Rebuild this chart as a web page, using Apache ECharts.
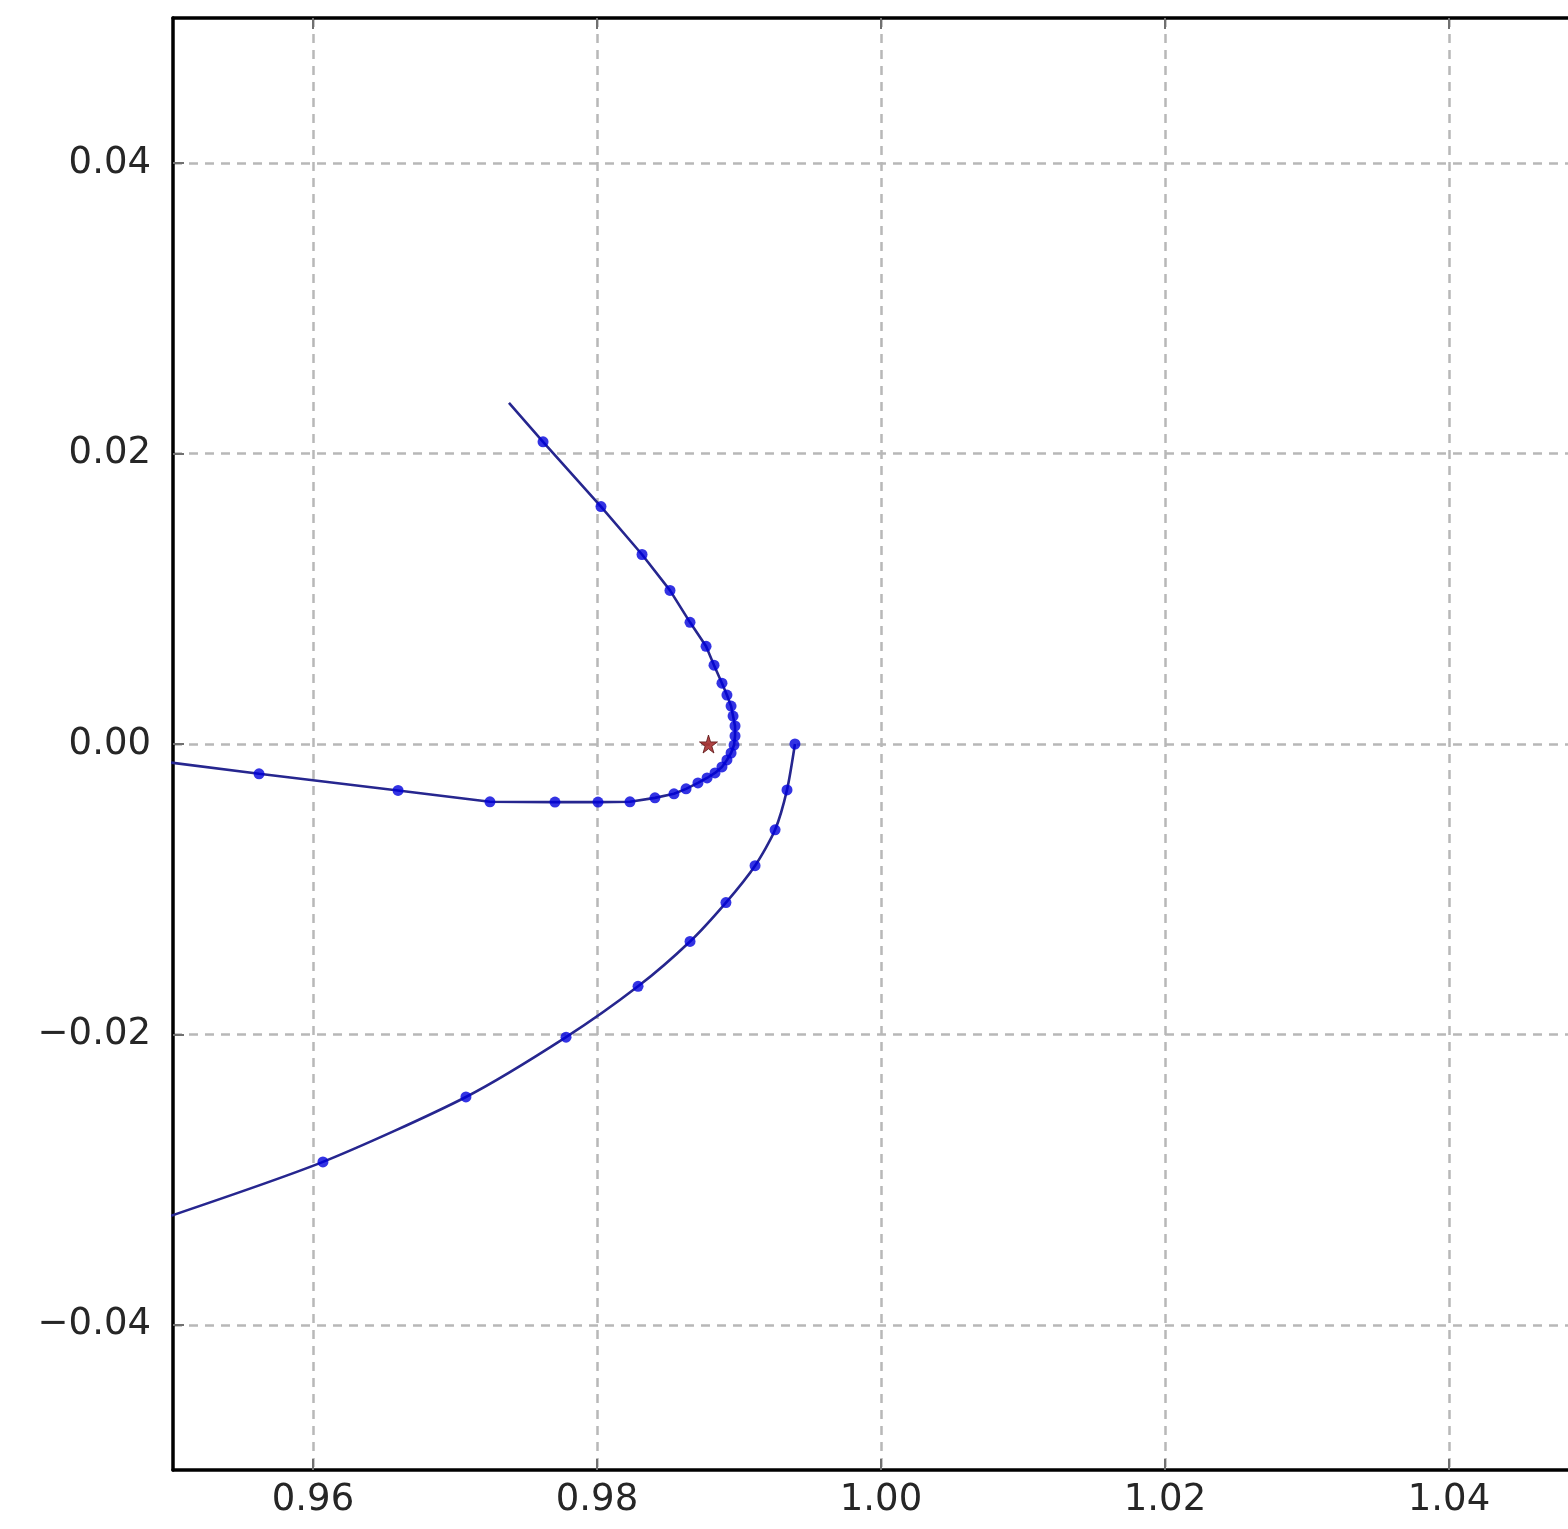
<!DOCTYPE html>
<html>
<head>
<meta charset="utf-8">
<style>
  html, body { margin: 0; padding: 0; background: #fff; }
  #chart { width: 1568px; height: 1529px; }
</style>
<script src="https://cdn.jsdelivr.net/npm/echarts@6/dist/echarts.min.js"></script>
</head>
<body>
<div id="chart"></div>
<script>
// Tick positions and their printed labels
const xTickValues = [0.96, 0.98, 1.00, 1.02, 1.04];
const xTickLabels = ['0.96', '0.98', '1.00', '1.02', '1.04'];
const yTickValues = [-0.04, -0.02, 0.00, 0.02, 0.04];
const yTickLabels = ['\u22120.04', '\u22120.02', '0.00', '0.02', '0.04'];

// Incoming branch: sampled states (x, y)
const branchAX = [0.97380, 0.97620, 0.98028, 0.98317, 0.98514, 0.98655, 0.98768, 0.98824, 0.98880, 0.98915,
                  0.98944, 0.98958, 0.98972, 0.98972, 0.98965, 0.98944, 0.98915, 0.98880, 0.98831, 0.98775,
                  0.98711, 0.98627, 0.98542, 0.98408, 0.98232, 0.98007, 0.97704, 0.97246, 0.96599, 0.95620,
                  0.95000];
const branchAY = [0.02349, 0.02081, 0.01635, 0.01305, 0.01058, 0.00838, 0.00673, 0.00543, 0.00419, 0.00337,
                  0.00261, 0.00192, 0.00124, 0.00055, -0.00007, -0.00062, -0.00110, -0.00158, -0.00199, -0.00234,
                  -0.00268, -0.00309, -0.00343, -0.00371, -0.00398, -0.00400, -0.00400, -0.00398, -0.00320, -0.00205,
                  -0.00128];
// Which samples of branch A carry a dot (first and last are trace ends only)
const branchAMarked = [false, true, true, true, true, true, true, true, true, true,
                       true, true, true, true, true, true, true, true, true, true,
                       true, true, true, true, true, true, true, true, true, true,
                       false];

// Outgoing branch: sampled states (x, y)
const branchBX = [0.99394, 0.99338, 0.99254, 0.99113, 0.98908, 0.98655, 0.98289, 0.97782, 0.97077, 0.96070, 0.95000];
const branchBY = [0.00000, -0.00316, -0.00591, -0.00838, -0.01092, -0.01360, -0.01669, -0.02019, -0.02431, -0.02878, -0.03249];
const branchBMarked = [true, true, true, true, true, true, true, true, true, true, false];

// Reference body
const bodyX = [0.98785];
const bodyY = [0.0];

// Visible x window: the plot runs on past the right edge of the page
const xMin = 0.95014;
const xMax = 1.04838;

const pairs = (xs, ys) => xs.map((x, i) => [x, ys[i]]);
const markedPairs = (xs, ys, flags) => xs.map((x, i) => [x, ys[i]]).filter((_, i) => flags[i]);

const labelFont = { fontFamily: 'DejaVu Sans', fontSize: 37, color: '#262626' };
const gridLine = { show: true, lineStyle: { color: '#b8b8b8', width: 2.5, type: [9, 7] } };
const tick = { show: true, inside: true, length: 11, lineStyle: { color: '#707070', width: 2 } };
const lineColor = '#26268f';
const dotColor = '#0000dc';

const chart = echarts.init(document.getElementById('chart'), null, { renderer: 'canvas' });
chart.setOption({
  animation: false,
  backgroundColor: '#ffffff',
  grid: { left: 173, top: 18, right: 0, height: 1452, show: false },
  xAxis: [
    {
      type: 'value', min: xMin, max: xMax, position: 'bottom',
      axisLine: { show: true, onZero: false, lineStyle: { color: '#000', width: 3.5 } },
      axisTick: Object.assign({ customValues: xTickValues }, tick),
      axisLabel: {
        customValues: xTickValues, margin: 12, ...labelFont,
        formatter: v => xTickLabels[xTickValues.findIndex(t => Math.abs(t - v) < 1e-9)]
      },
      splitLine: gridLine
    },
    {
      type: 'value', min: xMin, max: xMax, position: 'top',
      axisLine: { show: true, onZero: false, lineStyle: { color: '#000', width: 3.5 } },
      axisTick: Object.assign({ customValues: xTickValues }, tick),
      axisLabel: { show: false },
      splitLine: { show: false }
    }
  ],
  yAxis: [
    {
      type: 'value', min: -0.05, max: 0.05, position: 'left',
      axisLine: { show: true, onZero: false, lineStyle: { color: '#000', width: 3.5 } },
      axisTick: Object.assign({ customValues: yTickValues }, tick),
      axisLabel: {
        customValues: yTickValues, margin: 22, ...labelFont,
        formatter: v => yTickLabels[yTickValues.findIndex(t => Math.abs(t - v) < 1e-9)]
      },
      splitLine: gridLine
    }
  ],
  series: [
    {
      name: 'branch A', type: 'line', data: pairs(branchAX, branchAY),
      showSymbol: false, smooth: false, lineStyle: { color: lineColor, width: 2.6 },
      z: 2, silent: true
    },
    {
      name: 'branch A dots', type: 'scatter', data: markedPairs(branchAX, branchAY, branchAMarked),
      symbol: 'circle', symbolSize: 11, itemStyle: { color: dotColor }, z: 3, silent: true
    },
    {
      name: 'branch B', type: 'line', data: pairs(branchBX, branchBY),
      showSymbol: false, smooth: 0.25, lineStyle: { color: lineColor, width: 2.6 },
      z: 2, silent: true
    },
    {
      name: 'branch B dots', type: 'scatter', data: markedPairs(branchBX, branchBY, branchBMarked),
      symbol: 'circle', symbolSize: 11, itemStyle: { color: dotColor }, z: 3, silent: true
    },
    {
      name: 'body', type: 'scatter', data: pairs(bodyX, bodyY),
      symbol: 'path://M50,0 L61,35 L98,35 L68,57 L79,91 L50,70 L21,91 L32,57 L2,35 L39,35 Z',
      symbolSize: 18, itemStyle: { color: '#9a1414', borderColor: '#5a1010', borderWidth: 1 },
      z: 4, silent: true
    }
  ]
});
</script>
</body>
</html>
